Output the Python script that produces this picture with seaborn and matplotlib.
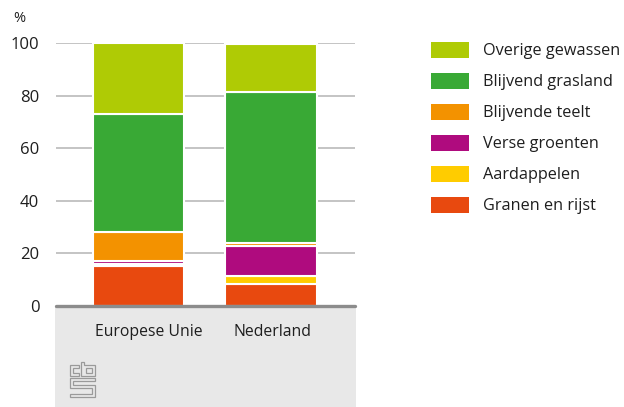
import matplotlib
matplotlib.use("Agg")
import matplotlib.pyplot as plt
from matplotlib.patches import Rectangle, Polygon
import numpy as np
import pandas as pd
import seaborn as sns

# Share of agricultural land per crop group (%)
regions = ["Europese Unie", "Nederland"]
granen = [15.2, 8.4]
aardappelen = [0.8, 2.9]
verse_groenten = [1.2, 11.5]
blijvende_teelt = [11.0, 1.0]
grasland = [44.8, 57.7]
overige = [27.0, 18.2]

series_names = ["Granen en rijst", "Aardappelen", "Verse groenten",
                "Blijvende teelt", "Blijvend grasland", "Overige gewassen"]
series_values = [granen, aardappelen, verse_groenten,
                 blijvende_teelt, grasland, overige]
series_colors = ["#e8490f", "#ffcc00", "#af0b7e",
                 "#f39200", "#39a935", "#afcb05"]
y_ticks = [0, 20, 40, 60, 80, 100]

W, H = 624, 407
sns.set_theme(style="white")
plt.rcParams["font.family"] = ["Open Sans", "DejaVu Sans"]
TXT = "#1e1e1e"

fig = plt.figure(figsize=(W / 100, H / 100), dpi=100)


def fx(x):
    return x / W


def fy(y):
    return 1 - y / H


ax = fig.add_axes([fx(56), fy(306), (355 - 56) / W, (306 - 43.3) / H])
ax.set_facecolor("none")

# light grey footer band under the axis
fig.add_artist(Rectangle((fx(55), 0), (356 - 55) / W, fy(307),
                         transform=fig.transFigure, facecolor="#e8e8e8",
                         edgecolor="none", zorder=0))

df = pd.DataFrame({"regio": regions})
bottom = np.zeros(len(regions))
for name, vals, col in zip(series_names, series_values, series_colors):
    df["waarde"] = vals
    sns.barplot(data=df, x="regio", y="waarde", bottom=bottom.copy(),
                color=col, width=0.69, errorbar=None, edgecolor="white",
                linewidth=1.5, saturation=1, ax=ax, zorder=3)
    bottom += np.array(vals)

ax.set_xlim(-0.62, 1.63)
ax.set_ylim(0, 100)
ax.set_yticks(y_ticks)
ax.set_yticklabels([str(t) for t in y_ticks])
# category labels sit a little right of the first bar
ax.set_xticks([0.082, 1.007], labels=regions)
ax.set_xlabel("")
ax.set_ylabel("")
for s in ax.spines.values():
    s.set_visible(False)
ax.grid(axis="y", color="#b4b4b4", linewidth=1.1, zorder=1)
ax.grid(axis="x", visible=False)
ax.axhline(0, color="#8c8c8c", linewidth=2.4, zorder=4, clip_on=False)
ax.tick_params(axis="y", length=0, pad=12, labelsize=12, labelcolor=TXT)
ax.tick_params(axis="x", length=0, pad=13, labelsize=11.3, labelcolor=TXT)

fig.text(fx(13), fy(18), "%", fontsize=10.5, color=TXT, va="center", ha="left")

# legend, top entry is the top of the stack
for k, (name, col) in enumerate(zip(series_names[::-1], series_colors[::-1])):
    yc = 50 + 31 * k
    fig.add_artist(Rectangle((fx(431), fy(yc + 8)), 38 / W, 16 / H,
                             transform=fig.transFigure, facecolor=col,
                             edgecolor="none"))
    fig.text(fx(483), fy(yc + 1), name, fontsize=11.7, color=TXT,
             va="center", ha="left")

# cbs logo outline
logo = [
    [(79, 365), (70, 365), (70, 376), (79, 376), (79, 373), (73, 373),
     (73, 368), (79, 368)],
    [(81, 362), (84, 362), (84, 365), (95, 365), (95, 376), (81, 376)],
    [(86, 368), (92, 368), (92, 373), (86, 373)],
    [(70, 378), (95, 378), (95, 381), (73, 381), (73, 385), (95, 385),
     (95, 397), (70, 397), (70, 394), (92, 394), (92, 388), (70, 388)],
]
for shape in logo:
    fig.add_artist(Polygon([(fx(x), fy(y)) for x, y in shape], closed=True,
                           transform=fig.transFigure, facecolor="none",
                           edgecolor="#9a9a9a", linewidth=0.9))

fig.savefig("out.png", dpi=100)
